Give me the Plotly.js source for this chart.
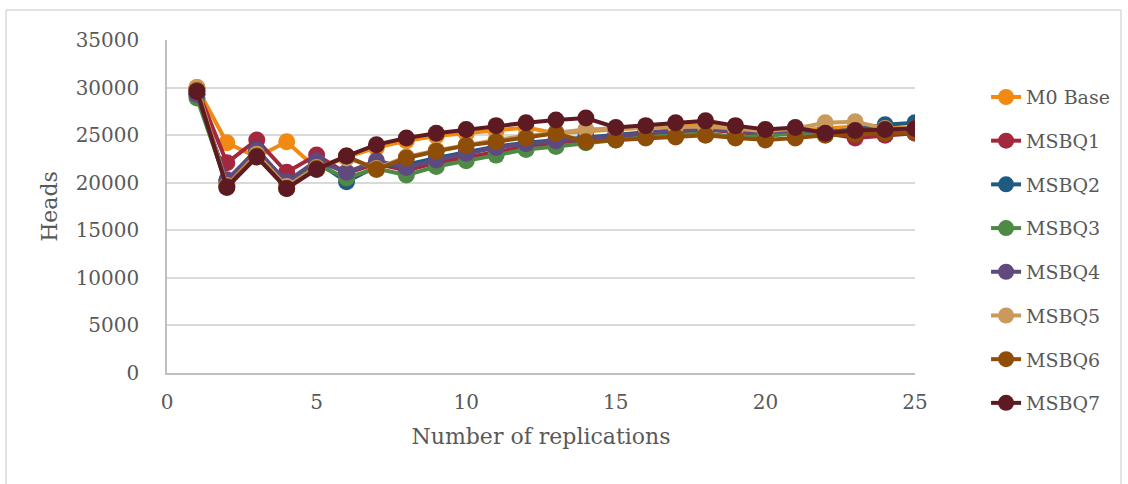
<!DOCTYPE html>
<html>
<head>
<meta charset="utf-8">
<script src="https://cdn.plot.ly/plotly-3.0.1.min.js"></script>
<style>html,body{margin:0;padding:0;background:#fff;}#chart{width:1128px;height:484px;}</style>
</head>
<body>
<div id="chart"></div>
<script>
const replications = [1,2,3,4,5,6,7,8,9,10,11,12,13,14,15,16,17,18,19,20,21,22,23,24,25];
const seriesNames = ["M0 Base","MSBQ1","MSBQ2","MSBQ3","MSBQ4","MSBQ5","MSBQ6","MSBQ7"];
const m0Base = [30000,24200,22700,24300,21500,22700,23700,24400,24900,25200,25500,25800,25200,25400,25700,25900,26100,26200,25800,25300,25500,25700,25900,25800,25700];
const msbq1  = [29900,22100,24500,21100,22900,21000,22000,21300,22100,22700,23300,23800,24200,24500,24800,25000,25300,25600,25300,25100,25300,25200,24700,25000,25200];
const msbq2  = [29300,20200,23500,20000,22200,20100,21700,21900,22600,23200,23800,24200,24500,24800,25100,25300,25500,25800,25400,25200,25400,25300,25600,26100,26300];
const msbq3  = [28900,19800,23200,19700,21900,20500,21500,20800,21700,22300,22900,23500,23800,24200,24500,24800,25000,25200,24800,24900,25200,25200,25300,25300,25400];
const msbq4  = [29300,20300,23400,20100,22300,21100,22300,21600,22400,23100,23700,24100,24400,24700,25000,25200,25500,25700,25400,25300,25500,25400,25500,25500,25500];
const msbq5  = [30000,19700,23000,19600,21600,22600,21500,22700,23400,24000,24500,24900,25300,25600,25700,25800,25900,25900,25700,25400,25700,26300,26400,25700,25700];
const msbq6  = [29700,19600,22800,19400,21500,22800,21400,22600,23300,23900,24300,24700,25200,24300,24500,24700,24800,25000,24700,24500,24700,25000,25100,25200,25300];
const msbq7  = [29600,19500,22700,19400,21400,22800,24000,24700,25200,25600,26000,26300,26600,26800,25800,26000,26300,26500,26000,25600,25800,25200,25500,25600,25700];
const yTicks = [0,5000,10000,15000,20000,25000,30000,35000];
const xTicks = [0,5,10,15,20,25];

const allValues = [m0Base,msbq1,msbq2,msbq3,msbq4,msbq5,msbq6,msbq7];
const colors = ["#F08A12","#A3283D","#1F5A80","#4E8A45","#5E4A7E","#C99A5B","#8F4E08","#5E1A22"];
const font = "DejaVu Serif";

const traces = allValues.map((vals,i)=>({
  x: replications, y: vals, name: seriesNames[i], type: "scatter", mode: "lines+markers",
  legendgroup: "g"+i,
  line: {color: colors[i], width: 4},
  marker: {color: colors[i], size: 17, line: {width: 0}}
}));

const layout = {
  width: 1128, height: 484,
  paper_bgcolor: "#fff", plot_bgcolor: "#fff",
  margin: {l:167, r:213, t:40, b:111, pad:0, autoexpand: false},
  font: {family: font, size: 20, color: "#595959"},
  showlegend: true,
  legend: {x: 1.095, xanchor: "left", y: 0.369, yanchor: "middle", maxheight: 420,
           font: {family: font, size: 19, color: "#595959"},
           tracegroupgap: 16, bgcolor: "rgba(0,0,0,0)"},
  xaxis: {range: [0,25], tickvals: xTicks, ticktext: xTicks.map(String), showgrid: false, zeroline: false, automargin: false,
          showline: true, linecolor: "#BFBFBF", linewidth: 1.5, ticks: "outside", ticklen: 10, tickcolor: "rgba(0,0,0,0)",
          tickfont: {family: font, size: 20, color: "#595959"},
          title: {text: "Number of replications", font: {family: font, size: 22, color: "#595959"}, standoff: 16}},
  yaxis: {range: [0,35000], tickvals: yTicks, ticktext: yTicks.map(String), showgrid: true, gridcolor: "#D9D9D9", gridwidth: 1.5, automargin: false,
          zeroline: false, showline: true, linecolor: "#BFBFBF", linewidth: 1.5, ticks: "outside", ticklen: 22, tickcolor: "rgba(0,0,0,0)",
          tickfont: {family: font, size: 20, color: "#595959"},
          title: {text: "Heads", font: {family: font, size: 22, color: "#595959"}, standoff: 12}},
  shapes: [
    {type:"line", xref:"paper", yref:"paper", x0:-0.2152, x1:-0.2152, y0:1.09, y1:-0.5, line:{color:"#D9D9D9", width:1.5}},
    {type:"line", xref:"paper", yref:"paper", x0:-0.2152, x1:1.2754, y0:1.09, y1:1.09, line:{color:"#D9D9D9", width:1.5}},
    {type:"line", xref:"paper", yref:"paper", x0:1.2754, x1:1.2754, y0:1.09, y1:-0.5, line:{color:"#D9D9D9", width:1.5}}
  ]
};
Plotly.newPlot("chart", traces, layout, {displayModeBar: false, responsive: false});
</script>
</body>
</html>
